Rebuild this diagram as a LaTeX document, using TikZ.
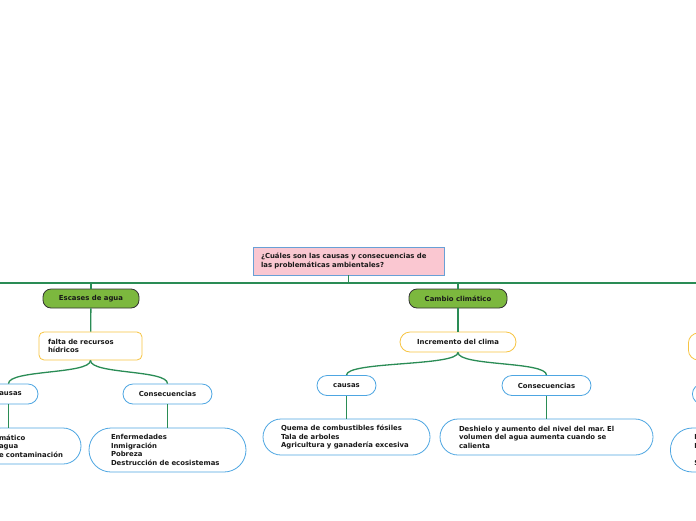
\documentclass[tikz,border=0pt]{standalone}
\usepackage{fontspec}
\setmainfont{DejaVu Sans}
\frenchspacing
\definecolor{rootpink}{RGB}{250,199,209}
\definecolor{rootblue}{RGB}{104,160,214}
\definecolor{topicgreen}{RGB}{124,184,62}
\definecolor{ideayellow}{RGB}{247,196,66}
\definecolor{branchblue}{RGB}{78,166,226}
\definecolor{linkgreen}{RGB}{42,140,85}
\begin{document}
\begin{tikzpicture}[x=1pt,y=-1pt,
  every node/.style={font=\fontsize{6.9}{8.5}\selectfont\bfseries,text=black!90},
  mainbox/.style={draw=rootblue,fill=rootpink,line width=0.8pt,minimum height=28pt,inner xsep=8pt,align=left},
  topicbox/.style={draw=black!80,fill=topicgreen,line width=0.8pt,rounded corners=8pt,minimum height=19pt},
  ideabox/.style={draw=ideayellow,fill=white,line width=0.8pt,align=left},
  branchbox/.style={draw=branchblue,fill=white,line width=0.8pt,rounded corners=10pt,minimum height=20pt},
  leafbox/.style={draw=branchblue,fill=white,line width=0.8pt,rounded corners=18pt,align=left},
  link/.style={draw=linkgreen,line width=1.3pt}]
  \useasboundingbox (0,0) rectangle (696,520);
  \clip (0,0) rectangle (696,520);
  \fill[white] (0,0) rectangle (696,520);

  % central question and the green trunk
  \node[mainbox,text width=175pt] (question) at (348.5,261) {¿Cuáles son las causas y consecuencias de\\las problemáticas ambientales?};
  \coordinate (trunkL) at (-5,283);
  \coordinate (trunkR) at (701,283);
  \draw[link] (trunkL) -- (trunkR);
  \draw[link] (question.south) -- (question.south |- trunkL);

  % Escases de agua
  \node[topicbox,minimum width=96pt] (agua) at (91,298.5) {Escases de agua};
  \node[ideabox,rounded corners=5pt,text width=85pt,inner xsep=9pt,minimum height=28pt] (falta) at (90.5,346) {falta de recursos\\hídricos};
  \node[branchbox,minimum width=59pt] (causasA) at (8.5,394) {causas};
  \node[branchbox,minimum width=89pt] (consecA) at (167.5,394) {Consecuencias};
  \node[leafbox,text width=66pt,inner xsep=16pt,minimum height=36pt] (leafA) at (32,446) {mático\\agua\\e contaminación};
  \node[leafbox,rounded corners=22pt,text width=113pt,inner xsep=22pt,minimum height=44pt] (leafB) at (167.5,450) {Enfermedades\\Inmigración\\Pobreza\\Destrucción de ecosistemas};

  % Cambio climatico
  \node[topicbox,minimum width=98pt] (clima) at (458,298.5) {Cambio climático};
  \node[ideabox,rounded corners=10pt,minimum width=116pt,minimum height=20pt] (incremento) at (458,342) {Incremento del clima};
  \node[branchbox,minimum width=59pt] (causasB) at (346.5,385.5) {causas};
  \node[branchbox,minimum width=89pt] (consecB) at (546.5,385.5) {Consecuencias};
  \node[leafbox,text width=131pt,inner xsep=18pt,minimum height=36pt] (quema) at (346.5,437) {Quema de combustibles fósiles\\Tala de arboles\\Agricultura y ganadería excesiva};
  \node[leafbox,text width=175pt,inner xsep=19pt,minimum height=36pt] (deshielo) at (546.5,437) {Deshielo y aumento del nivel del mar. El\\volumen del agua aumenta cuando se\\calienta};

  % third topic, cut at the right edge
  \node[ideabox,rounded corners=10pt,anchor=west,minimum width=100pt,minimum height=27pt] (ideaC) at (688,346.5) {};
  \node[branchbox,anchor=west,minimum width=60pt] (branchC) at (692,394) {};
  \node[leafbox,rounded corners=22pt,anchor=west,text width=100pt,inner xsep=24pt,minimum height=44pt] (leafC) at (670,450) {I\\I\\~\\S};

  % connectors
  \draw[link] (agua.north) -- (agua.north |- trunkL);
  \draw[link] (clima.north) -- (clima.north |- trunkR);
  \draw[link] (agua) -- (falta);
  \draw[link] (clima) -- (incremento);
  \draw[link] (falta.south) .. controls +(0,14) and +(0,-14) .. (causasA.north);
  \draw[link] (falta.south) .. controls +(0,14) and +(0,-14) .. (consecA.north);
  \draw[link] (incremento.south) .. controls +(0,14) and +(0,-14) .. (causasB.north);
  \draw[link] (incremento.south) .. controls +(0,14) and +(0,-14) .. (consecB.north);
  \draw[link] (causasA.south) -- (causasA.south |- leafA.north);
  \draw[link] (consecA) -- (leafB);
  \draw[link] (causasB) -- (quema);
  \draw[link] (consecB) -- (deshielo);
\end{tikzpicture}
\end{document}
